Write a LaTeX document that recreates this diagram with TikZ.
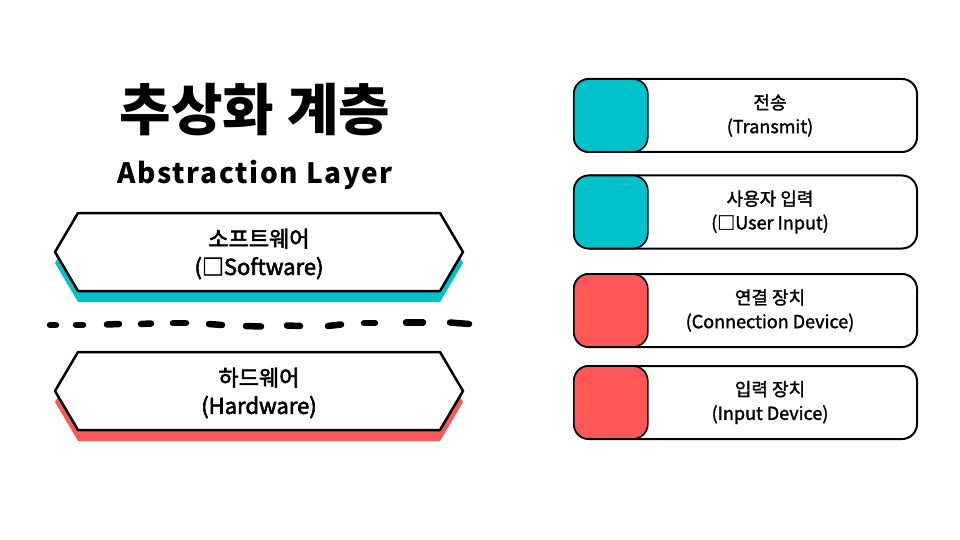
\documentclass[tikz,border=0pt]{standalone}
\usepackage{fontspec}
\setmainfont{Noto Sans CJK KR}
\newfontfamily\spacedfont[LetterSpace=6]{Noto Sans CJK KR}
\newfontfamily\medfont[FakeBold=1.6]{Noto Sans CJK KR}
\newfontfamily\semifont[FakeBold=2.6]{Noto Sans CJK KR}
\usetikzlibrary{positioning,calc}
\definecolor{layerteal}{HTML}{00C2CB}
\definecolor{layerred}{HTML}{FF5757}

\tikzset{
  pics/layer/.style={code={
    \fill[#1] (-204,11) -- (-181,-28) -- (181,-28) -- (204,11) -- (181,50) -- (-181,50) -- cycle;
    \draw[line width=2.5pt,line join=round,fill=white] (-204,0) -- (-181,-39) -- (181,-39) -- (204,0) -- (181,39) -- (-181,39) -- cycle;
  }},
  layertext/.style={align=center,font=\fontsize{22}{28}\selectfont\semifont},
  card/.style={draw,line width=2pt,rounded corners=15pt,fill=white,minimum width=343pt,minimum height=73pt},
  swatch/.style={draw,line width=1.6pt,rounded corners=15pt,minimum width=74pt,minimum height=73pt,anchor=west},
  cardtext/.style={align=center,font=\fontsize{18}{24}\selectfont\medfont},
  inkdash/.style={line width=6.5pt,line cap=round}
}

\begin{document}
\begin{tikzpicture}[x=1pt,y=-1pt]
  \useasboundingbox (0,0) rectangle (960,540);
  % title
  \node[font=\fontsize{56}{60}\selectfont\bfseries] (title) at (255,110) {추상화 계층};
  \node[font=\fontsize{28}{32}\selectfont\spacedfont\bfseries] (subtitle) at (255,175) {Abstraction Layer};
  % layers
  \pic at (259,252) {layer=layerteal};
  \node[layertext] (soft) at (259,254) {소프트웨어\\(□Software)};
  \pic at (259,391) {layer=layerred};
  \node[layertext] (hard) at (259,393) {하드웨어\\(Hardware)};
  % hand drawn divider
  \foreach \a/\b/\c/\d in {50/325/56/325, 76/325/83/325, 107/324.5/119/324, 141/324/151/323.5,
      173/323/186/323, 209/324/222/325, 246/326/261/326.5, 287/325.5/300/326,
      328/326/341/324.5, 364/323/375/323, 406/322.5/423/322.5, 450/322.5/469/324} {
    \draw[inkdash] (\a,\b) -- (\c,\d);
  }
  % cards
  \node[card] (c1) at (745.5,115.5) {};
  \node[swatch,fill=layerteal] (s1) at (c1.west) {};
  \node[cardtext] (t1) at ([xshift=24.5pt]c1.center) {전송\\(Transmit)};
  \node[card] (c2) at (745.5,212) {};
  \node[swatch,fill=layerteal] (s2) at (c2.west) {};
  \node[cardtext] (t2) at ([xshift=24.5pt]c2.center) {사용자 입력\\(□User Input)};
  \node[card] (c3) at (745.5,310.5) {};
  \node[swatch,fill=layerred] (s3) at (c3.west) {};
  \node[cardtext] (t3) at ([xshift=24.5pt]c3.center) {연결 장치\\(Connection Device)};
  \node[card] (c4) at (745.5,402.5) {};
  \node[swatch,fill=layerred] (s4) at (c4.west) {};
  \node[cardtext] (t4) at ([xshift=24.5pt]c4.center) {입력 장치\\(Input Device)};
\end{tikzpicture}
\end{document}
